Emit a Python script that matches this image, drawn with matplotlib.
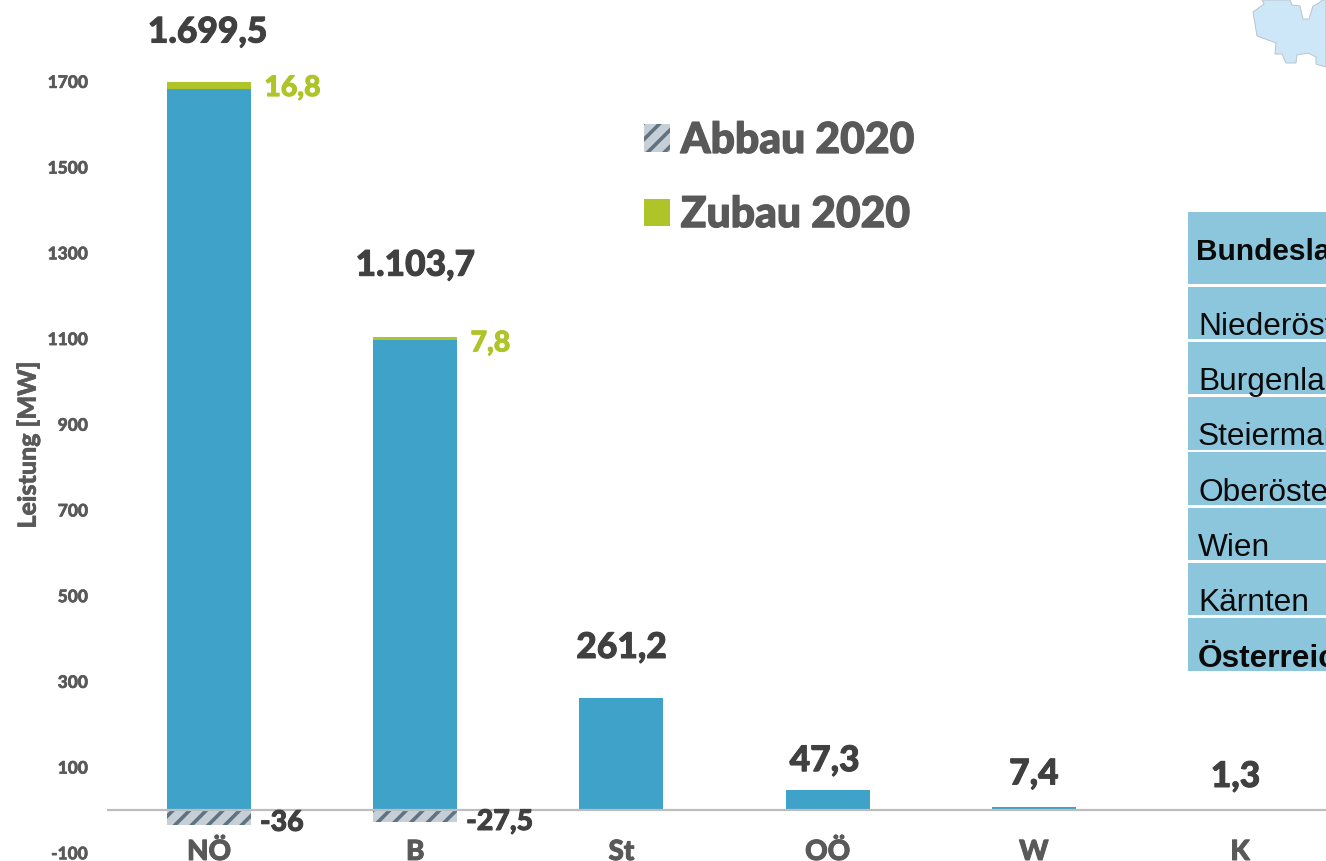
import matplotlib
matplotlib.use("Agg")
import matplotlib.pyplot as plt
import matplotlib.patheffects as pe
from matplotlib.patches import Rectangle, Polygon, Patch

plt.rcParams['hatch.linewidth'] = 2.6
plt.rcParams['hatch.color'] = '#5f7382'

categories = ["NÖ", "B", "St", "OÖ", "W", "K"]
totals = [1699.5, 1103.7, 261.2, 47.3, 7.4, 1.3]
total_labels = ["1.699,5", "1.103,7", "261,2", "47,3", "7,4", "1,3"]
zubau = [16.8, 7.8, 0, 0, 0, 0]
abbau = [-36, -27.5, 0, 0, 0, 0]
yticks = [-100, 100, 300, 500, 700, 900, 1100, 1300, 1500, 1700]
table_rows = ["Bundesland", "Niederösterreich", "Burgenland", "Steiermark",
              "Oberösterreich", "Wien", "Kärnten", "Österreich"]

W, H = 1326, 861
BLUE, GREEN, GREY, DARK = '#3fa3c9', '#afc428', '#595959', '#404040'
FONT = 'Lato'
WEIGHT = 900


def heavy(t, lw=0.7):
    """Thicken a label a little; the reference's bold face is heavier than Lato's."""
    t.set_path_effects([pe.withStroke(linewidth=lw, foreground=t.get_color())])
    return t


fig = plt.figure(figsize=(W/100, H/100), dpi=100, facecolor='white')
ax = fig.add_axes([107/W, 0, 1-107/W, 1])
ax.set_xlim(-0.495, 5.417)
ax.set_ylim(-119, 1890)
for s in ax.spines.values():
    s.set_visible(False)

x = list(range(len(categories)))
base = [t - z for t, z in zip(totals, zubau)]
bw = 0.407
ax.bar(x, base, bw, color=BLUE, zorder=2)
ax.bar(x[:2], zubau[:2], bw, bottom=base[:2], color=GREEN, zorder=2)
ax.bar(x[:2], abbau[:2], bw, facecolor='#c6cfd6', edgecolor='#5f7382', hatch='//',
       linewidth=0, zorder=2)
ax.axhline(0, color='#bdbdbd', lw=1.6, zorder=3)

# data labels: (x offset in category units, y in data units)
label_dx = [-0.008, 0, 0, -0.015, 0, -0.022]
label_y = [1814, 1270, 378, 114, 83, 77]
for i, (lab, ly, dx) in enumerate(zip(total_labels, label_y, label_dx)):
    heavy(ax.text(i + dx, ly, lab, ha='center', va='center', fontsize=25.5, fontweight=WEIGHT,
                  color=DARK, family=FONT))
for i in (0, 1):
    heavy(ax.text(i + 0.268, totals[i] - 15, f"{zubau[i]}".replace('.', ','), ha='left', va='center',
                  fontsize=20.5, fontweight=WEIGHT, color=GREEN, family=FONT))
for i, lab, ly in zip((0, 1), ("-36", "-27,5"), (-30, -28)):
    heavy(ax.text(i + 0.247, ly, lab, ha='left', va='center', fontsize=20.5,
                  fontweight=WEIGHT, color=DARK, family=FONT))

ax.set_yticks(yticks)
ax.set_yticklabels([str(v) for v in yticks], fontsize=12.5, fontweight=WEIGHT,
                   color=GREY, family=FONT)
ax.set_xticks(x)
ax.set_xticklabels(categories, fontsize=20, fontweight=WEIGHT, color=GREY, family=FONT)
ax.tick_params(axis='y', length=0, pad=13.8)
ax.tick_params(axis='x', length=0, pad=0)
for t in ax.get_xticklabels():
    t.set_verticalalignment('center')
    t.set_position((t.get_position()[0], 9/H))
    t.set_transform(ax.get_xaxis_transform())
    heavy(t)
for t in ax.get_yticklabels():
    heavy(t, 0.4)
heavy(ax.text(28/W, 1-445/H, "Leistung [MW]", transform=fig.transFigure, rotation=90,
              ha='center', va='center', fontsize=18, fontweight=WEIGHT, color=GREY, family=FONT), 0.4)

# overlay in pixel coordinates: legend, table, logo
ov = fig.add_axes([0, 0, 1, 1], facecolor='none')
ov.set_xlim(0, W); ov.set_ylim(H, 0); ov.axis('off')

handles = [Patch(facecolor='#c6cfd6', edgecolor='#5f7382', hatch='//', linewidth=0, label='Abbau 2020'),
           Patch(facecolor=GREEN, edgecolor='none', label='Zubau 2020')]
leg = ov.legend(handles=handles, loc='upper left', bbox_to_anchor=(644/W, 1-120/H),
                bbox_transform=fig.transFigure, frameon=False, labelcolor=GREY,
                prop={'family': FONT, 'weight': WEIGHT, 'size': 30.7}, handlelength=0.6,
                handleheight=0.6, handletextpad=0.26, labelspacing=0.80, borderpad=0, borderaxespad=0)
for t in leg.get_texts():
    heavy(t, 0.9)

rows = [(212, 284), (287, 339), (342, 394), (397, 450), (452, 505), (508, 560), (563, 615), (618, 671)]
text_y = [252, 327, 382, 437, 493, 548, 603, 659]
sizes = [21.5, 22.8, 22.8, 22.8, 22.8, 22.8, 22.8, 22.8]
for i, ((a, b), ty, lab, fs) in enumerate(zip(rows, text_y, table_rows, sizes)):
    ov.add_patch(Rectangle((1188, a), W-1188, b-a, fc='#8cc6dd', ec='none'))
    ov.text(1196 if i == 0 else 1198, ty, lab, ha='left', va='center', fontsize=fs,
            fontweight='bold' if i in (0, 7) else 'normal', color='#0a0a0a', family='Liberation Sans')

logo = [(1262, 0), (1264, 4), (1253, 12), (1257, 36), (1276, 43), (1275, 54), (1282, 54), (1286, 63),
        (1296, 63), (1297, 55), (1308, 53), (1316, 57), (1316, 64), (1326, 67), (1326, 0),
        (1322, 0), (1319, 3), (1313, 6), (1309, 19), (1303, 19), (1300, 6), (1292, 5), (1290, 0)]
ov.add_patch(Polygon(logo, closed=True, fc='#cde6f8', ec='#b9c4cc', lw=0.7))

fig.savefig('out.png', dpi=100)
